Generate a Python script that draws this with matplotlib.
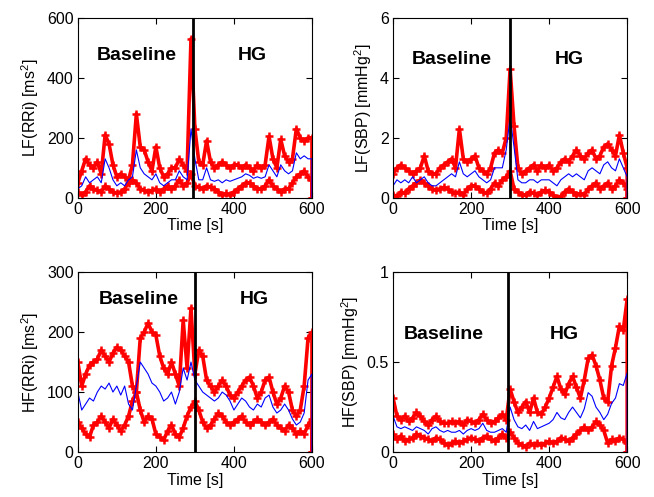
import matplotlib
matplotlib.use("Agg")
import matplotlib.pyplot as plt

plt.rcParams['font.family'] = ['Liberation Sans', 'DejaVu Sans']
plt.rcParams['mathtext.fontset'] = 'custom'
plt.rcParams['mathtext.rm'] = 'Liberation Sans'
plt.rcParams['mathtext.default'] = 'regular'

# time axis: every 10 s, then the final drop to zero at 600 s
time = list(range(0, 601, 10)) + [600]

# LF(RRi)
lf_rri_up = [50, 90, 130, 110, 100, 120, 80, 210, 180, 110,
             70, 80, 70, 60, 110, 280, 170, 160, 120, 90,
             170, 100, 70, 80, 100, 100, 130, 110, 90, 530,
             230, 120, 110, 190, 120, 100, 110, 120, 110, 100,
             110, 110, 100, 110, 100, 90, 110, 100, 110, 205,
             130, 100, 195, 140, 120, 130, 230, 200, 190, 200,
             200, 0]
lf_rri_mid = [30, 40, 70, 50, 60, 70, 50, 130, 100, 60,
              40, 50, 40, 60, 70, 160, 100, 80, 70, 60,
              80, 50, 40, 50, 60, 60, 90, 70, 60, 230,
              130, 60, 60, 100, 60, 55, 60, 50, 60, 55,
              60, 65, 70, 80, 75, 65, 70, 65, 70, 110,
              90, 70, 110, 90, 80, 90, 150, 130, 140, 130,
              130, 0]
lf_rri_lo = [20, 10, 20, 40, 30, 25, 20, 40, 30, 20,
             15, 20, 30, 50, 60, 50, 30, 25, 20, 25,
             30, 20, 30, 40, 30, 40, 60, 40, 50, 80,
             40, 35, 30, 40, 35, 30, 20, 10, 15, 10,
             20, 30, 40, 50, 50, 40, 30, 30, 40, 60,
             40, 30, 20, 30, 30, 50, 70, 80, 90, 70,
             60, 0]

# LF(SBP)
lf_sbp_up = [0.8, 1.0, 1.1, 1.0, 0.9, 0.8, 0.9, 1.0, 1.4, 0.9,
             0.8, 0.8, 1.0, 1.1, 1.2, 1.3, 1.0, 2.3, 1.3, 1.2,
             1.3, 1.4, 1.0, 0.9, 0.8, 1.0, 1.5, 1.6, 1.5, 2.0,
             4.3, 2.4, 1.0, 0.8, 0.9, 1.0, 1.1, 0.9, 1.1, 1.0,
             1.1, 0.9, 1.0, 1.2, 1.3, 1.2, 1.4, 1.6, 1.4, 1.3,
             1.5, 1.6, 1.3, 1.4, 1.7, 1.8, 1.6, 1.4, 2.1, 1.5,
             1.0, 0]
lf_sbp_mid = [0.4, 0.6, 0.5, 0.6, 0.5, 0.7, 0.5, 0.6, 0.7, 0.5,
              0.4, 0.4, 0.5, 0.6, 0.7, 0.8, 0.7, 1.2, 0.8, 0.7,
              0.8, 0.9, 0.7, 0.6, 0.5, 0.6, 1.0, 1.0, 1.0, 1.6,
              2.7, 1.7, 0.6, 0.5, 0.5, 0.6, 0.6, 0.5, 0.6, 0.6,
              0.6, 0.5, 0.4, 0.6, 0.7, 0.8, 0.7, 0.8, 0.7, 0.6,
              0.9, 1.0, 0.9, 0.8, 1.1, 1.2, 1.0, 0.9, 1.3, 1.0,
              0.7, 0]
lf_sbp_lo = [0.1, 0.05, 0.2, 0.15, 0.3, 0.4, 0.5, 0.6, 0.5, 0.4,
             0.3, 0.25, 0.3, 0.35, 0.3, 0.2, 0.15, 0.2, 0.1, 0.3,
             0.4, 0.4, 0.3, 0.2, 0.15, 0.3, 0.5, 0.4, 0.6, 0.7,
             0.9, 0.3, 0.2, 0.1, 0.1, 0.2, 0.15, 0.1, 0.2, 0.25,
             0.2, 0.1, 0.0, 0.05, 0.2, 0.3, 0.2, 0.1, 0.15, 0.1,
             0.3, 0.4, 0.5, 0.3, 0.4, 0.5, 0.3, 0.4, 0.6, 0.5,
             0.3, 0]

# HF(RRi)
hf_rri_up = [150, 110, 130, 145, 150, 155, 170, 160, 150, 165,
             175, 170, 160, 150, 110, 100, 190, 200, 215, 200,
             195, 160, 140, 130, 150, 130, 110, 220, 140, 240,
             130, 170, 160, 120, 110, 100, 110, 120, 110, 95,
             90, 100, 110, 120, 125, 110, 90, 100, 120, 125,
             100, 80, 90, 110, 100, 70, 60, 70, 110, 190,
             200, 0]
hf_rri_mid = [100, 70, 80, 90, 85, 100, 110, 105, 115, 100,
              110, 95, 110, 80, 70, 110, 150, 140, 130, 115,
              110, 100, 85, 90, 100, 80, 100, 140, 120, 150,
              120, 110, 100, 95, 90, 85, 90, 100, 95, 85,
              70, 80, 90, 85, 75, 70, 80, 75, 90, 95,
              75, 65, 70, 80, 70, 55, 45, 50, 65, 120,
              130, 0]
hf_rri_lo = [50, 40, 30, 25, 45, 50, 60, 50, 40, 55,
             45, 35, 45, 60, 85, 100, 70, 50, 60, 55,
             30, 25, 20, 35, 45, 30, 25, 40, 60, 75,
             85, 70, 50, 40, 45, 55, 65, 60, 50, 45,
             50, 55, 60, 50, 45, 50, 55, 50, 45, 50,
             55, 45, 40, 35, 45, 40, 30, 35, 30, 45,
             55, 0]

# HF(SBP)
hf_sbp_up = [0.30, 0.20, 0.18, 0.20, 0.17, 0.19, 0.22, 0.20, 0.17, 0.15,
             0.18, 0.20, 0.17, 0.16, 0.16, 0.17, 0.16, 0.17, 0.15, 0.18,
             0.17, 0.16, 0.18, 0.21, 0.18, 0.16, 0.17, 0.19, 0.21, 0.18,
             0.35, 0.28, 0.22, 0.25, 0.28, 0.22, 0.30, 0.22, 0.21, 0.25,
             0.30, 0.36, 0.42, 0.35, 0.32, 0.38, 0.42, 0.36, 0.30, 0.40,
             0.52, 0.54, 0.48, 0.40, 0.30, 0.28, 0.48, 0.58, 0.70, 0.68,
             0.85, 0]
hf_sbp_mid = [0.20, 0.14, 0.13, 0.14, 0.13, 0.12, 0.14, 0.13, 0.12, 0.10,
              0.13, 0.14, 0.12, 0.11, 0.12, 0.11, 0.11, 0.12, 0.10, 0.12,
              0.13, 0.12, 0.13, 0.16, 0.12, 0.11, 0.11, 0.12, 0.13, 0.11,
              0.25, 0.18, 0.14, 0.13, 0.15, 0.12, 0.17, 0.13, 0.14, 0.15,
              0.16, 0.18, 0.22, 0.19, 0.18, 0.22, 0.25, 0.22, 0.19, 0.24,
              0.33, 0.31, 0.25, 0.22, 0.18, 0.21, 0.27, 0.30, 0.38, 0.37,
              0.44, 0]
hf_sbp_lo = [0.10, 0.07, 0.09, 0.06, 0.07, 0.08, 0.10, 0.09, 0.08, 0.07,
             0.06, 0.08, 0.07, 0.05, 0.04, 0.05, 0.06, 0.05, 0.06, 0.07,
             0.08, 0.07, 0.06, 0.08, 0.09, 0.07, 0.06, 0.08, 0.10, 0.08,
             0.11, 0.08, 0.05, 0.04, 0.03, 0.05, 0.04, 0.05, 0.04, 0.05,
             0.06, 0.05, 0.06, 0.08, 0.07, 0.06, 0.08, 0.10, 0.12, 0.14,
             0.12, 0.14, 0.17, 0.15, 0.12, 0.05, 0.07, 0.06, 0.08, 0.07,
             0.05, 0]

# per panel settings
ylabels = ['LF(RRi) [ms$^2$]', 'LF(SBP) [mmHg$^2$]',
           'HF(RRi) [ms$^2$]', 'HF(SBP) [mmHg$^2$]']
yticks = [[0, 200, 400, 600], [0, 2, 4, 6], [0, 100, 200, 300], [0, 0.5, 1]]
ytick_labels = [['0', '200', '400', '600'], ['0', '2', '4', '6'],
                ['0', '100', '200', '300'], ['0', '0.5', '1']]
onset = [296, 300, 300, 295]
label_y = [476, 4.6, 255, 0.655]
base_x = [151, 150, 156, 131]
hg_x = [446, 451, 453, 438]

series = [(lf_rri_up, lf_rri_mid, lf_rri_lo),
          (lf_sbp_up, lf_sbp_mid, lf_sbp_lo),
          (hf_rri_up, hf_rri_mid, hf_rri_lo),
          (hf_sbp_up, hf_sbp_mid, hf_sbp_lo)]

fig = plt.figure(figsize=(6.54, 4.97), dpi=100)
lefts = [0.119, 0.601, 0.119, 0.601]
bottoms = [0.602, 0.602, 0.0905, 0.0905]

for i in range(4):
    ax = fig.add_axes([lefts[i], bottoms[i], 0.358, 0.362])
    up, mid, lo = series[i]
    # red bounds drawn as thick dense '+' bands
    ax.plot(time, up, color='red', lw=2.6, marker='+', ms=6, mew=1.8)
    ax.plot(time, lo, color='red', lw=2.6, marker='+', ms=6, mew=1.8)
    ax.plot(time, mid, color='blue', lw=0.8)
    ax.axvline(onset[i], color='black', lw=2)

    ax.set_xlim(0, 600)
    ax.set_ylim(yticks[i][0], yticks[i][-1])
    ax.set_xticks([0, 200, 400, 600])
    ax.set_yticks(yticks[i])
    ax.set_yticklabels(ytick_labels[i])
    ax.tick_params(direction='in', top=True, right=True, length=4,
                   labelsize=11.5, pad=3)
    ax.set_xlabel('Time [s]', fontsize=11.5, labelpad=1)
    ax.set_ylabel(ylabels[i], fontsize=11.5, labelpad=4)

    ax.text(base_x[i], label_y[i], 'Baseline', fontsize=14, fontweight='bold',
            ha='center', va='center')
    ax.text(hg_x[i], label_y[i], 'HG', fontsize=14, fontweight='bold',
            ha='center', va='center')

plt.savefig('out.png', dpi=100)
